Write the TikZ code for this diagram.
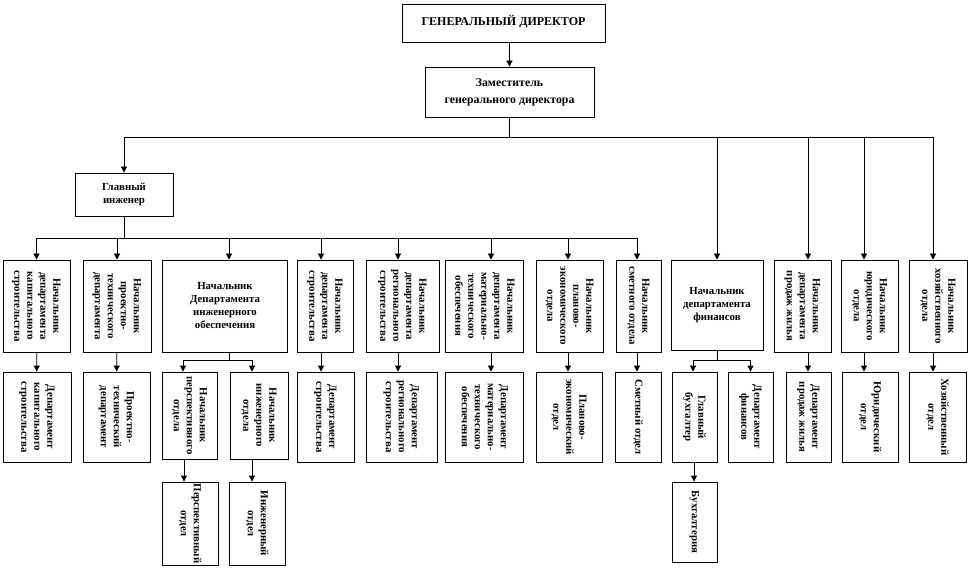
\documentclass[tikz,border=0pt]{standalone}
\usepackage{fontspec}
\setmainfont{Liberation Serif}
\usetikzlibrary{arrows.meta}

% rotated text, read from top to bottom
\newcommand{\vlabel}[1]{\rotatebox{-90}{\begin{tabular}{@{}c@{}}#1\end{tabular}}}

\begin{document}
\begin{tikzpicture}[x=1pt, y=-1pt,
    box/.style={draw, line width=0.8pt, inner sep=0pt, align=center, font=\bfseries\fontsize{10.8}{13}\selectfont},
    arr/.style={line width=0.8pt, -{Triangle[width=6pt,length=6pt]}},
    line/.style={line width=0.8pt}]

\useasboundingbox (0,0) rectangle (969,569);

% Head
\node[box, minimum width=203, minimum height=38, font=\bfseries\fontsize{12}{14}\selectfont] (gd) at (503.5,23) {\raisebox{5pt}{ГЕНЕРАЛЬНЫЙ ДИРЕКТОР}};
\node[box, minimum width=169, minimum height=50, font=\bfseries\fontsize{11.8}{17}\selectfont] (zam) at (509.5,92) {Заместитель\\генерального директора};
\node[box, minimum width=98, minimum height=43] (ge) at (124,194.5) {Главный\\инженер};

% Heads of departments
\node[box, minimum width=67, minimum height=92] (n1) at (36.5,306) {\vlabel{Начальник\\департамента\\капитального\\строительства}};
\node[box, minimum width=68, minimum height=92] (n2) at (117,306) {\vlabel{Начальник\\проектно-\\технического\\департамента}};
\node[box, minimum width=125, minimum height=92] (n3) at (225,306) {Начальник\\Департамента\\инженерного\\обеспечения};
\node[box, minimum width=56, minimum height=92] (n4) at (325,306) {\vlabel{Начальник\\департамента\\строительства}};
\node[box, minimum width=73, minimum height=92] (n5) at (402.5,306) {\vlabel{Начальник\\департамента\\регионального\\строительства}};
\node[box, minimum width=78, minimum height=92] (n6) at (484,306) {\vlabel{Начальник\\департамента\\материально-\\технического\\обеспечения}};
\node[box, minimum width=67, minimum height=92] (n7) at (569.5,306) {\vlabel{Начальник\\планово-\\экономического\\отдела}};
\node[box, minimum width=45, minimum height=92] (n8) at (638.5,306) {\vlabel{Начальник\\сметного отдела}};
\node[box, minimum width=92, minimum height=90] (n9) at (717,305) {Начальник\\департамента\\финансов};
\node[box, minimum width=57, minimum height=92] (n10) at (802.5,306) {\vlabel{Начальник\\департамента\\продаж жилья}};
\node[box, minimum width=57, minimum height=92] (n11) at (869.5,306) {\vlabel{Начальник\\юридического\\отдела}};
\node[box, minimum width=58, minimum height=92] (n12) at (938,306) {\vlabel{Начальник\\хозяйственного\\отдела}};

% Departments
\node[box, minimum width=68, minimum height=90] (d1) at (37,417) {\vlabel{Департамент\\капитального\\строительства}};
\node[box, minimum width=67, minimum height=90] (d2) at (116.5,417) {\vlabel{Проектно-\\технический\\департамент}};
\node[box, minimum width=55, minimum height=87] (p3a) at (189.5,415.5) {\vlabel{Начальник\\перспективного\\отдела}};
\node[box, minimum width=58, minimum height=87] (p3b) at (259,415.5) {\vlabel{Начальник\\инженерного\\отдела}};
\node[box, minimum width=57, minimum height=90] (d4) at (325.5,417) {\vlabel{Департамент\\строительства}};
\node[box, minimum width=71, minimum height=90] (d5) at (401.5,417) {\vlabel{Департамент\\регионального\\строительства}};
\node[box, minimum width=78, minimum height=90] (d6) at (484,417) {\vlabel{Департамент\\материально-\\технического\\обеспечения}};
\node[box, minimum width=66, minimum height=90] (d7) at (569,417) {\vlabel{Планово-\\экономический\\отдел}};
\node[box, minimum width=46, minimum height=90] (d8) at (638,417) {\vlabel{Сметный отдел}};
\node[box, minimum width=45, minimum height=90] (gb) at (694.5,417) {\vlabel{Главный\\бухгалтер}};
\node[box, minimum width=45, minimum height=90] (dfin) at (750.5,417) {\vlabel{Департамент\\финансов}};
\node[box, minimum width=45, minimum height=90] (d10) at (808.5,417) {\vlabel{Департамент\\продаж жилья}};
\node[box, minimum width=56, minimum height=90] (d11) at (870,417) {\vlabel{Юридический\\отдел}};
\node[box, minimum width=57, minimum height=90] (d12) at (937.5,417) {\vlabel{Хозяйственный\\отдел}};

% Lowest level
\node[box, minimum width=56, minimum height=83] (o3a) at (190,523.5) {\vlabel{Перспективный\\отдел}};
\node[box, minimum width=56, minimum height=83] (o3b) at (257,523.5) {\vlabel{Инженерный\\отдел}};
\node[box, minimum width=45, minimum height=80] (buh) at (694.5,522) {\vlabel{Бухгалтерия}};

% Bus points
\coordinate (bus1) at (509.5,137);
\coordinate (bus2) at (124,238);
\coordinate (bus3) at (717,360);
\coordinate (bus4) at (229,360);

% Edges
\draw[arr] (gd.south -| zam.north) -- (zam.north);
\draw[line] (zam.south) -- (bus1);
\draw[arr] (bus1) -| (ge.north);
\draw[arr] (bus1) -| (n9.north);
\draw[arr] (bus1) -| (n10.north -| 808,0);
\draw[arr] (bus1) -| (n11.north -| 864,0);
\draw[arr] (bus1) -| (n12.north -| 933,0);

\draw[line] (ge.south) -- (bus2);
\draw[arr] (bus2) -| (n1.north);
\draw[arr] (bus2) -| (n2.north);
\draw[arr] (bus2) -| (n3.north -| 229,0);
\draw[arr] (bus2) -| (n4.north -| 321,0);
\draw[arr] (bus2) -| (n5.north -| 398,0);
\draw[arr] (bus2) -| (n6.north -| 491,0);
\draw[arr] (bus2) -| (n7.north -| 568,0);
\draw[arr] (bus2) -| (n8.north -| 637,0);

\draw[arr] (n1) -- (d1);
\draw[arr] (n2) -- (d2);
\draw[line] (n3.south -| bus4) -- (bus4);
\draw[arr] (bus4) -| (p3a.north -| 183,0);
\draw[arr] (bus4) -| (p3b.north -| 252,0);
\draw[arr] (p3a.south -| 184,0) -- (o3a.north -| 184,0);
\draw[arr] (p3b.south -| 252,0) -- (o3b.north -| 252,0);
\draw[arr] (n4.south -| 321,0) -- (d4.north -| 321,0);
\draw[arr] (n5.south -| 398,0) -- (d5.north -| 398,0);
\draw[arr] (n6.south -| 491,0) -- (d6.north -| 491,0);
\draw[arr] (n7.south -| 568,0) -- (d7.north -| 568,0);
\draw[arr] (n8.south -| 637,0) -- (d8.north -| 637,0);
\draw[line] (n9.south) -- (bus3);
\draw[arr] (bus3) -| (gb.north -| 693,0);
\draw[arr] (bus3) -| (dfin.north);
\draw[arr] (gb.south -| 694,0) -- (buh.north -| 694,0);
\draw[arr] (n10.south -| 808,0) -- (d10.north -| 808,0);
\draw[arr] (n11.south -| 864,0) -- (d11.north -| 864,0);
\draw[arr] (n12.south -| 933,0) -- (d12.north -| 933,0);
\end{tikzpicture}
\end{document}
